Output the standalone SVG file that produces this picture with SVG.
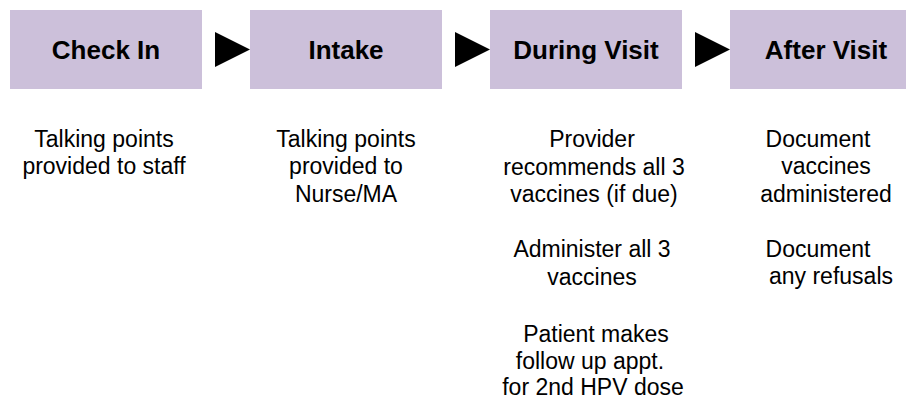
<svg xmlns="http://www.w3.org/2000/svg" width="906" height="400" viewBox="0 0 906 400">
<style>
.box{fill:#CCC0DA;}
.title{font-family:"Liberation Sans",Arial,sans-serif;font-weight:bold;font-size:26px;fill:#000;text-anchor:middle;}
.body{font-family:"Liberation Sans",Arial,sans-serif;font-size:23px;fill:#000;text-anchor:middle;}
.arrow{fill:#000;}
</style>
<rect width="906" height="400" fill="#fff"/>
<g id="checkin">
<rect class="box" x="10" y="10" width="192" height="79"/>
<text class="title" x="106" y="59">Check In</text>
<text class="body" x="104" y="147">Talking points</text>
<text class="body" x="104" y="174">provided to staff</text>
</g>
<g id="intake">
<rect class="box" x="250" y="10" width="192" height="79"/>
<text class="title" x="346" y="59">Intake</text>
<text class="body" x="346" y="147">Talking points</text>
<text class="body" x="346" y="174">provided to</text>
<text class="body" x="346" y="202">Nurse/MA</text>
</g>
<g id="during">
<rect class="box" x="490" y="10" width="192" height="79"/>
<text class="title" x="586" y="59">During Visit</text>
<text class="body" x="592" y="147">Provider</text>
<text class="body" x="594" y="175">recommends all 3</text>
<text class="body" x="594" y="202">vaccines (if due)</text>
<text class="body" x="592" y="257">Administer all 3</text>
<text class="body" x="592" y="285">vaccines</text>
<text class="body" x="596" y="342">Patient makes</text>
<text class="body" x="590" y="369">follow up appt.</text>
<text class="body" x="593" y="395">for 2nd HPV dose</text>
</g>
<g id="after">
<rect class="box" x="730" y="10" width="192" height="79"/>
<text class="title" x="826" y="59">After Visit</text>
<text class="body" x="818" y="147">Document</text>
<text class="body" x="826" y="174">vaccines</text>
<text class="body" x="826" y="202">administered</text>
<text class="body" x="818" y="257">Document</text>
<text class="body" x="831" y="284">any refusals</text>
</g>
<g id="connectors">
<polygon class="arrow" points="215,32 250,49.5 215,67"/>
<polygon class="arrow" points="455,32 490,49.5 455,67"/>
<polygon class="arrow" points="695,32 730,49.5 695,67"/>
</g>
</svg>
